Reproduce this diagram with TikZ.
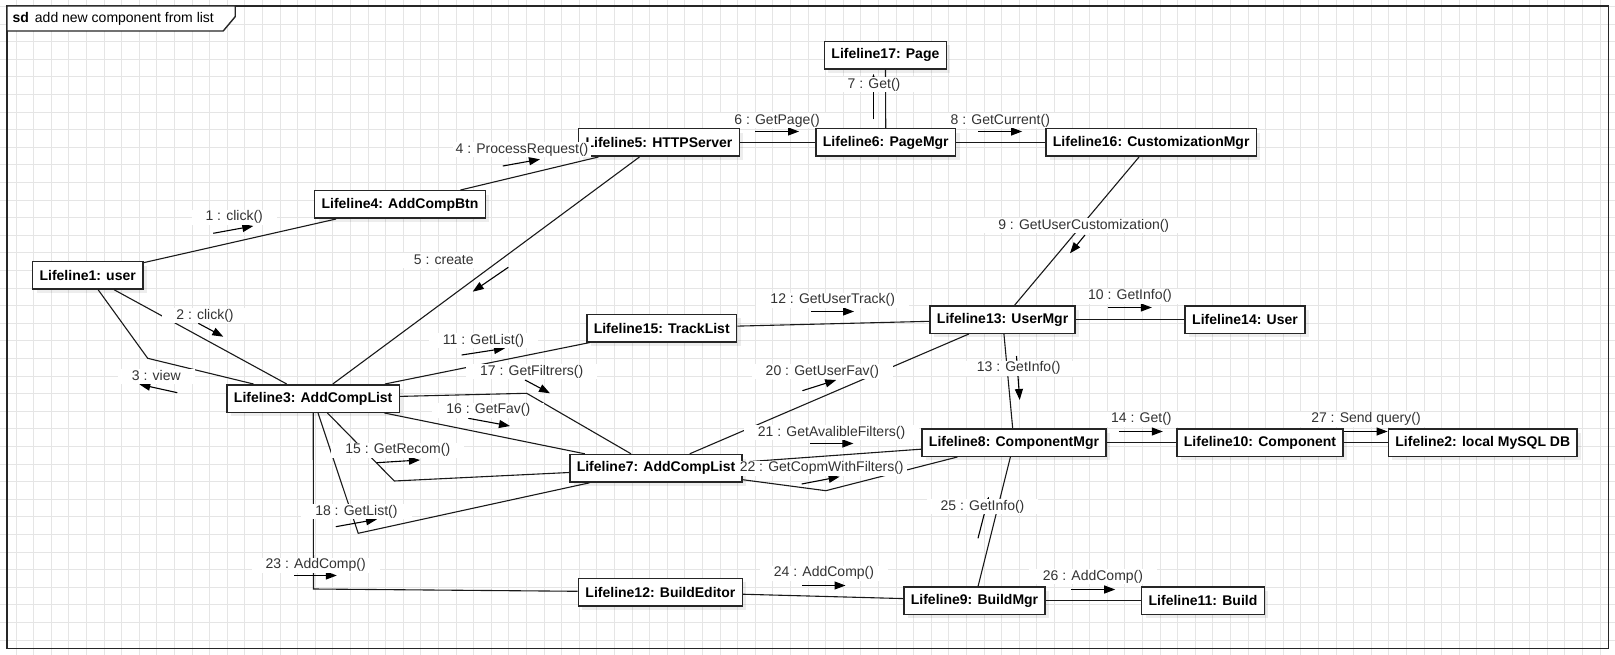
\documentclass[tikz,border=0pt]{standalone}
\usepackage{fontspec}
\setmainfont{Liberation Sans}
\usetikzlibrary{arrows.meta, shadows}

\begin{document}
\begin{tikzpicture}[x=1pt, y=-1pt,
	lifeline/.style={draw=black!85, line width=1.5pt, fill=white, font=\bfseries\fontsize{14}{16}\selectfont, inner xsep=7pt, inner ysep=0pt, minimum height=27.5pt, drop shadow={shadow xshift=4pt, shadow yshift=-4pt, fill=black, opacity=0.07}},
	msg/.style={fill=white, text=black!80, font=\fontsize{14}{16}\selectfont, inner xsep=14pt, inner ysep=1pt, text height=10pt, text depth=3pt},
	link/.style={draw=black!90, line width=1.1pt},
	call/.style={draw=black, line width=1.1pt, -{Triangle[length=11pt, width=8pt]}},
	gridline/.style={draw=black!10, line width=0.8pt}]
\useasboundingbox (0,0) rectangle (1615,655);

% background grid
\foreach \k in {0,...,92}
	\draw[gridline] ({-1.6+17.6*\k},0) -- ++(0,655);
\foreach \k in {0,...,37}
	\draw[gridline] (0,{6.4+17.6*\k}) -- ++(1615,0);

% frame and its tab
\draw[draw=black!85, line width=1.4pt] (7,6) rectangle (1608.7,648.7);
\draw[draw=black!85, line width=1.4pt, fill=white] (7,6) -- (235.2,6) -- (235.2,16.7) -- (223.2,31) -- (7,31) -- cycle;
\node[anchor=west, inner sep=0pt, font=\fontsize{14}{16}\selectfont] (title) at (12.4,18.5) {\textbf{sd}\hspace{6pt}add new component from list};

% lifelines
\path (885.4,55.2) node[lifeline] (l17) {Lifeline17: Page}
	  (659,142.5) node[lifeline] (l5) {Lifeline5: HTTPServer}
	  (885.8,142.5) node[lifeline] (l6) {Lifeline6: PageMgr}
	  (1151.2,142.5) node[lifeline] (l16) {Lifeline16: CustomizationMgr}
	  (400,204.5) node[lifeline] (l4) {Lifeline4: AddCompBtn}
	  (87.7,275.3) node[lifeline] (l1) {Lifeline1: user}
	  (1002.6,319.5) node[lifeline] (l13) {Lifeline13: UserMgr}
	  (1245,319.5) node[lifeline] (l14) {Lifeline14: User}
	  (661.7,328) node[lifeline] (l15) {Lifeline15: TrackList}
	  (313.2,398.5) node[lifeline] (l3) {Lifeline3: AddCompList}
	  (1014,442.5) node[lifeline] (l8) {Lifeline8: ComponentMgr}
	  (1260,442.5) node[lifeline] (l10) {Lifeline10: Component}
	  (1482.8,442.5) node[lifeline] (l2) {Lifeline2: local MySQL DB}
	  (656,468.3) node[lifeline] (l7) {Lifeline7: AddCompList}
	  (660.4,592) node[lifeline] (l12) {Lifeline12: BuildEditor}
	  (974.5,600.5) node[lifeline] (l9) {Lifeline9: BuildMgr}
	  (1203,600.5) node[lifeline] (l11) {Lifeline11: Build};

% bends of the links
\path (147.7,358.3) coordinate (b3)
	  (394.3,481) coordinate (b15)
	  (526.7,393.3) coordinate (b17)
	  (358.2,533.3) coordinate (b18)
	  (825.8,490.7) coordinate (b22)
	  (313.5,589) coordinate (b23);

% links
\draw[link] (l1) -- (l4);
\draw[link] (l1) -- (l3);
\draw[link] (l1) -- (b3) -- (l3);
\draw[link] (l4) -- (l5);
\draw[link] (l5) -- (l3);
\draw[link] (l5) -- (l6);
\draw[link] (l6) -- (l17);
\draw[link] (l6) -- (l16);
\draw[link] (l16) -- (l13);
\draw[link] (l13) -- (l14);
\draw[link] (l3) -- (l15);
\draw[link] (l15) -- (l13);
\draw[link] (l13) -- (l8);
\draw[link] (l8) -- (l10);
\draw[link] (l10) -- (l2);
\draw[link] (l3) -- (b15) -- (l7);
\draw[link] (l3) -- (l7);
\draw[link] (l3) -- (b17) -- (l7);
\draw[link] (l3) -- (b18) -- (l7);
\draw[link] (l7) -- (l13);
\draw[link] (l7) -- (l8);
\draw[link] (l7) -- (b22) -- (l8);
\draw[link] (l3) -- (b23) -- (l12);
\draw[link] (l12) -- (l9);
\draw[link] (l8) -- (l9);
\draw[link] (l9) -- (l11);

% message arrows
\path (213.3,233.3) coordinate (s1) (253.3,226) coordinate (e1)
	  (198.3,323.3) coordinate (s2) (223.3,336.7) coordinate (e2)
	  (177.3,392.7) coordinate (s3) (139.3,384.3) coordinate (e3)
	  (502.8,166) coordinate (s4) (540,159.3) coordinate (e4)
	  (508.3,267.3) coordinate (s5) (472.7,291.7) coordinate (e5)
	  (755.2,131.5) coordinate (s6) (799,131.5) coordinate (e6)
	  (873.5,119.3) coordinate (s7) (873.5,74) coordinate (e7)
	  (978.4,131.5) coordinate (s8) (1022.1,131.5) coordinate (e8)
	  (1085,235) coordinate (s9) (1070,253.3) coordinate (e9)
	  (1107.8,307.5) coordinate (s10) (1151.8,307.5) coordinate (e10)
	  (461.7,355) coordinate (s11) (505,348.3) coordinate (e11)
	  (811.4,311.5) coordinate (s12) (854,311.5) coordinate (e12)
	  (1016.5,356) coordinate (s13) (1019.7,400) coordinate (e13)
	  (1118.8,431.5) coordinate (s14) (1162.8,431.5) coordinate (e14)
	  (376.7,462.7) coordinate (s15) (420,460) coordinate (e15)
	  (468.3,418.3) coordinate (s16) (510,426) coordinate (e16)
	  (525,380) coordinate (s17) (550,393.3) coordinate (e17)
	  (335.8,526.7) coordinate (s18) (377,519.3) coordinate (e18)
	  (802.4,390.7) coordinate (s20) (836.2,380) coordinate (e20)
	  (810.3,443.5) coordinate (s21) (853.4,443.5) coordinate (e21)
	  (801.7,484) coordinate (s22) (839.6,476.7) coordinate (e22)
	  (294.4,575.5) coordinate (s23) (336.8,575.5) coordinate (e23)
	  (802.4,585.5) coordinate (s24) (845.5,585.5) coordinate (e24)
	  (978,538.3) coordinate (s25) (988.7,496.7) coordinate (e25)
	  (1071.2,589.5) coordinate (s26) (1115.2,589.5) coordinate (e26)
	  (1343.6,431.5) coordinate (s27) (1387.6,431.5) coordinate (e27);

\draw[call] (s1) -- (e1);
\draw[call] (s2) -- (e2);
\draw[call] (s3) -- (e3);
\draw[call] (s4) -- (e4);
\draw[call] (s5) -- (e5);
\draw[call] (s6) -- (e6);
\draw[call] (s7) -- (e7);
\draw[call] (s8) -- (e8);
\draw[call] (s9) -- (e9);
\draw[call] (s10) -- (e10);
\draw[call] (s11) -- (e11);
\draw[call] (s12) -- (e12);
\draw[call] (s13) -- (e13);
\draw[call] (s14) -- (e14);
\draw[call] (s15) -- (e15);
\draw[call] (s16) -- (e16);
\draw[call] (s17) -- (e17);
\draw[call] (s18) -- (e18);
\draw[call] (s20) -- (e20);
\draw[call] (s21) -- (e21);
\draw[call] (s22) -- (e22);
\draw[call] (s23) -- (e23);
\draw[call] (s24) -- (e24);
\draw[call] (s25) -- (e25);
\draw[call] (s26) -- (e26);
\draw[call] (s27) -- (e27);

% message labels
\path (234.2,217.3) node[msg] (m1) {1 : click()}
	  (205,315.7) node[msg] (m2) {2 : click()}
	  (156.3,376.7) node[msg] (m3) {3 : view}
	  (522,150) node[msg, inner xsep=3pt] (m4) {4 : ProcessRequest()}
	  (443.8,260.7) node[msg] (m5) {5 : create}
	  (777,120.7) node[msg] (m6) {6 : GetPage()}
	  (874,85) node[msg] (m7) {7 : Get()}
	  (1000.3,120.7) node[msg] (m8) {8 : GetCurrent()}
	  (1083.7,225.7) node[msg] (m9) {9 : GetUserCustomization()}
	  (1130,296) node[msg] (m10) {10 : GetInfo()}
	  (483.5,340.7) node[msg] (m11) {11 : GetList()}
	  (832.7,300) node[msg] (m12) {12 : GetUserTrack()}
	  (1018.7,368.3) node[msg] (m13) {13 : GetInfo()}
	  (1141.4,419.3) node[msg] (m14) {14 : Get()}
	  (397.8,450) node[msg] (m15) {15 : GetRecom()}
	  (488.3,410) node[msg] (m16) {16 : GetFav()}
	  (531.7,371.7) node[msg] (m17) {17 : GetFiltrers()}
	  (356.4,511.7) node[msg] (m18) {18 : GetList()}
	  (822.4,371.7) node[msg] (m20) {20 : GetUserFav()}
	  (831.6,432.7) node[msg] (m21) {21 : GetAvalibleFilters()}
	  (821.7,468.3) node[msg, inner xsep=3pt] (m22) {22 : GetCopmWithFilters()}
	  (315.7,565) node[msg] (m23) {23 : AddComp()}
	  (824,573.3) node[msg] (m24) {24 : AddComp()}
	  (982.5,506.7) node[msg] (m25) {25 : GetInfo()}
	  (1093,576.7) node[msg] (m26) {26 : AddComp()}
	  (1366,419.3) node[msg] (m27) {27 : Send query()};
\end{tikzpicture}
\end{document}
